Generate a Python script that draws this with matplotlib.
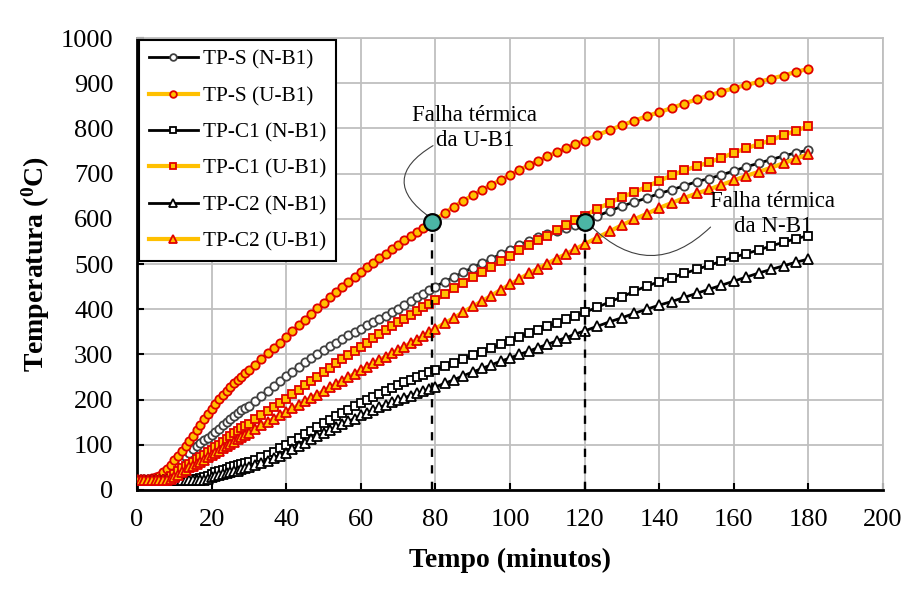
import matplotlib
matplotlib.use("Agg")
import matplotlib.pyplot as plt

plt.rcParams["font.family"] = ["Liberation Serif", "DejaVu Serif"]
plt.rcParams["mathtext.fontset"] = "custom"
plt.rcParams["mathtext.rm"] = "Liberation Serif"
plt.rcParams["mathtext.bf"] = "Liberation Serif:bold"

# Time stamps of the recorded readings (minutes)
tempo = [0, 1, 2, 3, 4, 5, 6, 7, 8, 9, 10, 11, 12, 13, 14, 15, 16, 17, 18, 19, 20,
         21, 22, 23, 24, 25, 26, 27, 28, 29, 30,
         31.67, 33.33, 35, 36.67, 38.33, 40, 41.67, 43.33, 45, 46.67, 48.33, 50,
         51.67, 53.33, 55, 56.67, 58.33, 60, 61.67, 63.33, 65, 66.67, 68.33, 70,
         71.67, 73.33, 75, 76.67, 78.33, 80,
         82.5, 85, 87.5, 90, 92.5, 95, 97.5, 100, 102.5, 105, 107.5, 110, 112.5,
         115, 117.5, 120,
         123.33, 126.67, 130, 133.33, 136.67, 140, 143.33, 146.67, 150, 153.33,
         156.67, 160, 163.33, 166.67, 170, 173.33, 176.67, 180]

tps_nb1 = [23, 23, 23, 23, 23, 23, 23, 25, 30, 38, 47, 56, 65, 74, 82, 90, 98, 104, 110, 116, 122,
           129, 136, 143, 150, 157, 164, 171, 176, 181, 186,
           197, 208, 219, 230, 241, 252, 262, 273, 283, 292, 301, 310, 318, 326, 334, 342, 349, 357,
           364, 372, 379, 386, 394, 401, 409, 418, 426, 434, 442, 450,
           461, 471, 482, 492, 502, 511, 522, 532, 542, 551, 559, 566, 573, 580, 587, 594,
           606, 617, 628, 637, 646, 656, 664, 673, 682, 689, 697, 706, 715, 723, 731, 739, 746, 752]

tps_ub1 = [24, 24, 24, 25, 26, 28, 32, 39, 47, 56, 66, 76, 86, 97, 108, 120, 132, 144, 156, 168, 180,
           191, 201, 211, 220, 228, 236, 244, 251, 258, 265,
           277, 290, 302, 314, 326, 338, 351, 364, 377, 389, 402, 414, 426, 438, 450, 461, 472, 483,
           493, 503, 513, 523, 533, 543, 552, 561, 570, 579, 589, 598,
           613, 627, 640, 652, 664, 675, 686, 697, 708, 718, 728, 738, 747, 756, 765, 773,
           785, 796, 807, 817, 827, 836, 845, 855, 864, 873, 881, 889, 896, 903, 910, 917, 925, 932]

tpc1_nb1 = [22, 22, 22, 22, 22, 22, 22, 22, 22, 22, 22, 22, 22, 22, 23, 24, 25, 27, 29, 32, 36,
            39, 42, 45, 47, 50, 52, 55, 57, 60, 62,
            67, 73, 78, 85, 93, 100, 108, 115, 123, 131, 140, 148, 155, 163, 170, 178, 185, 193,
            200, 206, 213, 219, 226, 232, 238, 243, 249, 254, 260, 265,
            274, 282, 290, 298, 306, 314, 322, 330, 339, 347, 355, 362, 370, 378, 386, 393,
            404, 416, 427, 440, 451, 461, 470, 479, 488, 497, 506, 515, 523, 531, 540, 548, 556, 563]

tpc1_ub1 = [23, 23, 23, 23, 23, 23, 23, 23, 25, 30, 36, 42, 48, 53, 58, 63, 68, 73, 78, 84, 89,
            95, 100, 106, 113, 119, 125, 131, 137, 142, 147,
            156, 165, 174, 183, 193, 202, 212, 222, 232, 242, 251, 261, 271, 280, 290, 299, 308, 317,
            326, 336, 345, 354, 362, 371, 379, 388, 396, 404, 412, 420,
            433, 446, 459, 471, 483, 494, 506, 518, 530, 541, 552, 563, 575, 586, 597, 607,
            622, 635, 648, 659, 671, 684, 696, 707, 716, 725, 735, 746, 756, 765, 774, 785, 795, 805]

tpc2_nb1 = [22, 22, 22, 22, 22, 22, 22, 22, 22, 22, 22, 22, 22, 22, 22, 22, 22, 22, 23, 25, 28,
            30, 33, 35, 37, 39, 41, 43, 46, 48, 51,
            55, 60, 64, 70, 76, 82, 90, 97, 105, 112, 119, 126, 132, 139, 145, 152, 158, 165,
            171, 177, 183, 188, 194, 199, 204, 209, 214, 219, 223, 228,
            236, 244, 253, 261, 269, 277, 285, 292, 300, 307, 315, 322, 330, 337, 345, 352,
            362, 372, 381, 391, 400, 409, 417, 426, 435, 444, 453, 462, 471, 480, 488, 496, 504, 511]

tpc2_ub1 = [23, 23, 23, 23, 23, 23, 23, 23, 23, 25, 29, 34, 40, 45, 50, 54, 58, 62, 67, 72, 77,
            82, 87, 92, 97, 102, 107, 112, 117, 122, 127,
            135, 143, 151, 158, 166, 173, 181, 188, 196, 204, 211, 219, 227, 234, 242, 250, 257, 265,
            273, 280, 288, 295, 303, 310, 317, 325, 332, 340, 349, 357,
            369, 381, 394, 406, 418, 430, 443, 455, 467, 479, 490, 501, 512, 522, 533, 544,
            558, 572, 586, 599, 611, 624, 635, 646, 656, 665, 675, 685, 695, 704, 713, 723, 733, 743]

# Thermal failure points (time, temperature)
falha_ub1 = (79.1, 593)
falha_nb1 = (120.2, 593)

x_ticks = list(range(0, 201, 20))
y_ticks = list(range(0, 1001, 100))

ORANGE = "#FFC000"
RED = "#E00000"
BLACK = "#000000"
TEAL = "#4BB5A5"

fig = plt.figure(figsize=(9.08, 5.92), dpi=100)
ax = fig.add_axes([0.1509, 0.1723, 0.8216, 0.7635])

series = [
    ("TP-S (N-B1)", tps_nb1, BLACK, "o", "white", "#404040", 2.0),
    ("TP-S (U-B1)", tps_ub1, ORANGE, "o", ORANGE, RED, 3.0),
    ("TP-C1 (N-B1)", tpc1_nb1, BLACK, "s", "white", BLACK, 2.0),
    ("TP-C1 (U-B1)", tpc1_ub1, ORANGE, "s", ORANGE, RED, 3.0),
    ("TP-C2 (N-B1)", tpc2_nb1, BLACK, "^", "white", BLACK, 2.0),
    ("TP-C2 (U-B1)", tpc2_ub1, ORANGE, "^", ORANGE, RED, 3.0),
]
for label, vals, lc, mk, mfc, mec, lw in series:
    ms = 6.8 if mk == "^" else 6.0
    ax.plot(tempo, vals, color=lc, lw=lw, marker=mk, ms=ms, mfc=mfc, mec=mec,
            mew=1.3, label=label, zorder=3)

# Failure markers with dashed drop lines
for (tx, ty) in (falha_ub1, falha_nb1):
    ax.plot([tx, tx], [0, ty], color=BLACK, lw=1.7, ls=(0, (3.5, 3.5)), zorder=4)
    ax.plot([tx], [ty], marker="o", ms=12, mfc=TEAL, mec=BLACK, mew=1.6, zorder=6)

ax.annotate("", xy=(falha_ub1[0] + 0.2, falha_ub1[1] + 6), xytext=(80.0, 765),
            arrowprops=dict(arrowstyle="-", color="#404040", lw=0.8,
                            connectionstyle="arc3,rad=0.8"), zorder=5)
ax.text(90.6, 800, "Falha térmica\nda U-B1", ha="center", va="center",
        fontsize=16.5, linespacing=1.25, zorder=7)

ax.annotate("", xy=(154.3, 586), xytext=(falha_nb1[0] + 1, falha_nb1[1] - 5),
            arrowprops=dict(arrowstyle="-", color="#404040", lw=0.8,
                            connectionstyle="arc3,rad=0.5"), zorder=5)
ax.text(170.5, 610, "Falha térmica\nda N-B1", ha="center", va="center",
        fontsize=16.5, linespacing=1.25, zorder=7)

ax.set_xlim(0, 200)
ax.set_ylim(0, 1000)
ax.set_xticks(x_ticks)
ax.set_yticks(y_ticks)
ax.grid(True, color="#BFBFBF", lw=1.3)
ax.set_axisbelow(True)
ax.tick_params(axis="both", direction="in", length=5, width=1.5, labelsize=19)
ax.tick_params(axis="y", pad=17)
ax.tick_params(axis="x", pad=14)
for s in ("top", "right"):
    ax.spines[s].set_color("#BFBFBF")
    ax.spines[s].set_linewidth(1.3)
for s in ("left", "bottom"):
    ax.spines[s].set_linewidth(2.0)

ax.set_xlabel("Tempo (minutos)", fontsize=20, fontweight="bold", labelpad=12)
ax.set_ylabel(r"Temperatura ($\mathbf{^0}$C)", fontsize=20, fontweight="bold", labelpad=6)

leg = ax.legend(loc="upper left", bbox_to_anchor=(0.0, 1.0), borderaxespad=0.1,
                fontsize=15.3, numpoints=1, handlelength=2.3, handletextpad=0.25,
                labelspacing=0.78, fancybox=False, framealpha=1, edgecolor=BLACK,
                borderpad=0.45, markerscale=0.8)
leg.get_frame().set_linewidth(1.5)
leg.set_zorder(8)

fig.savefig("out.png", dpi=100)
